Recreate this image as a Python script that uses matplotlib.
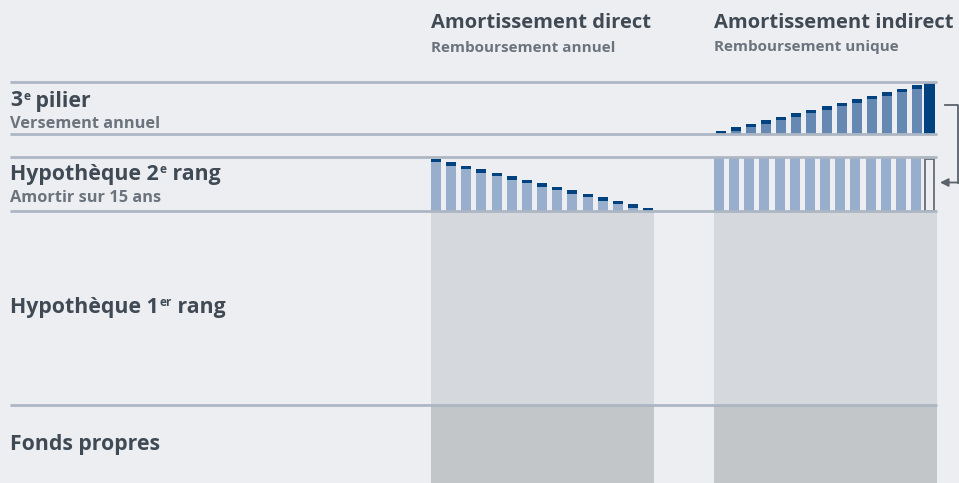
import matplotlib
matplotlib.use('Agg')
import matplotlib.pyplot as plt
from matplotlib.patches import Rectangle, FancyArrowPatch

plt.rcParams['font.family'] = ['Open Sans', 'DejaVu Sans']

# données (unités = années d'amortissement)
years = ['1', '2', '3', '4', '5', '6', '7', '8', '9', '10', '11', '12', '13', '14', '15']
direct_remaining = [14, 13, 12, 11, 10, 9, 8, 7, 6, 5, 4, 3, 2, 1, 0]   # dette restante après paiement
direct_payment = [1, 1, 1, 1, 1, 1, 1, 1, 1, 1, 1, 1, 1, 1, 1]         # remboursement annuel
pillar_saved = [0, 1, 2, 3, 4, 5, 6, 7, 8, 9, 10, 11, 12, 13]          # capital 3e pilier accumulé
pillar_deposit = [1, 1, 1, 1, 1, 1, 1, 1, 1, 1, 1, 1, 1, 1]            # versement annuel
pillar_final = 15
indirect_mortgage = [15, 15, 15, 15, 15, 15, 15, 15, 15, 15, 15, 15, 15, 15]

BG = '#edeef2'
LINE = '#adb6c3'
DARK_TXT = '#3f4a55'
GREY_TXT = '#6b747e'
LIGHT_BAR = '#97afcd'
MID_BAR = '#6689b3'
NAVY = '#00427f'

fig = plt.figure(figsize=(9.59, 4.83), dpi=100)
fig.patch.set_facecolor(BG)
ax = fig.add_axes([0, 0, 1, 1])
ax.set_xlim(0, 959)
ax.set_ylim(483, 0)
ax.axis('off')

unit = 3.47
x_direct = 431
x_indirect = 714
pitch = 15.15
bw = 10

# blocs gris (1er rang + fonds propres)
for x0 in (x_direct, x_indirect):
    ax.add_patch(Rectangle((x0, 211), 223, 194, color='#d5d8dc', lw=0))
    ax.add_patch(Rectangle((x0, 405), 223, 78, color='#c3c6c9', lw=0))

# amortissement direct
xs = [x_direct + i * pitch for i in range(len(years))]
base = 211
ax.bar(xs, [v * unit for v in direct_remaining], width=bw, bottom=[base - v * unit for v in direct_remaining],
       align='edge', color=LIGHT_BAR, lw=0)
ax.bar(xs, [v * unit for v in direct_payment], width=bw,
       bottom=[base - (r + p) * unit for r, p in zip(direct_remaining, direct_payment)],
       align='edge', color=NAVY, lw=0)

# amortissement indirect : hypothèque constante
xi = [x_indirect + i * pitch for i in range(len(indirect_mortgage))]
ax.bar(xi, [v * unit + 2 for v in indirect_mortgage], width=bw,
       bottom=[base - v * unit - 2 for v in indirect_mortgage], align='edge', color=LIGHT_BAR, lw=0)
ax.add_patch(Rectangle((x_indirect + 14 * pitch - 1.5, 158.5), bw - 1, 52, facecolor=BG,
                       edgecolor='#5a626b', lw=1.2))

# 3e pilier
pbase = 134
xp = [x + 1.5 for x in xi]
ax.bar(xp, [v * unit for v in pillar_saved], width=bw, bottom=[pbase - v * unit for v in pillar_saved],
       align='edge', color=MID_BAR, lw=0)
ax.bar(xp, [v * unit for v in pillar_deposit], width=bw,
       bottom=[pbase - (s + d) * unit for s, d in zip(pillar_saved, pillar_deposit)],
       align='edge', color=NAVY, lw=0)
ax.bar([x_indirect + 14 * pitch - 2], [pillar_final * unit], width=bw + 1,
       bottom=[pbase - pillar_final * unit], align='edge', color=NAVY, lw=0)

# lignes horizontales
for y in (82, 134, 157, 211, 405):
    ax.plot([10, 937], [y, y], color=LINE, lw=2, solid_capstyle='butt', zorder=5)

# flèche
ax.plot([945, 957.5, 957.5], [105, 105, 182.5], color='#5a626b', lw=1.3)
ax.add_patch(FancyArrowPatch((958, 182.5), (940, 182.5), arrowstyle='-|>', mutation_scale=12,
                             color='#5a626b', lw=1.3, shrinkA=0, shrinkB=0))

# textes
ax.text(x_direct, 23.5, 'Amortissement direct', fontsize=14.5, fontweight='bold', color=DARK_TXT, va='center')
ax.text(x_direct, 47.5, 'Remboursement annuel', fontsize=11, fontweight='bold', color=GREY_TXT, va='center')
ax.text(x_indirect, 23.5, 'Amortissement indirect', fontsize=14.5, fontweight='bold', color=DARK_TXT, va='center')
ax.text(x_indirect, 47.5, 'Remboursement unique', fontsize=11, fontweight='bold', color=GREY_TXT, va='center')

fig.canvas.draw()
renderer = fig.canvas.get_renderer()


def label(x, y, parts, size=15.3):
    # parts: liste de (texte, exposant?)
    for txt, sup in parts:
        if sup:
            t = ax.text(x + 1, y - 5, txt, fontsize=size * 0.56, fontweight='bold', color=DARK_TXT, va='center')
        else:
            t = ax.text(x, y, txt, fontsize=size, fontweight='bold', color=DARK_TXT, va='center')
        bb = t.get_window_extent(renderer)
        x = x + bb.width + (1 if sup else 0)


label(10, 101, [('3', False), ('e', True), (' pilier', False)])
ax.text(10, 123.5, 'Versement annuel', fontsize=11.8, fontweight='bold', color=GREY_TXT, va='center')
label(10, 174.5, [('Hypothèque 2', False), ('e', True), (' rang', False)])
ax.text(10, 198.5, 'Amortir sur 15 ans', fontsize=11.8, fontweight='bold', color=GREY_TXT, va='center')
label(10, 307.5, [('Hypothèque 1', False), ('er', True), (' rang', False)])
label(10, 444.5, [('Fonds propres', False)])

fig.savefig('out.png', dpi=100, facecolor=BG)
